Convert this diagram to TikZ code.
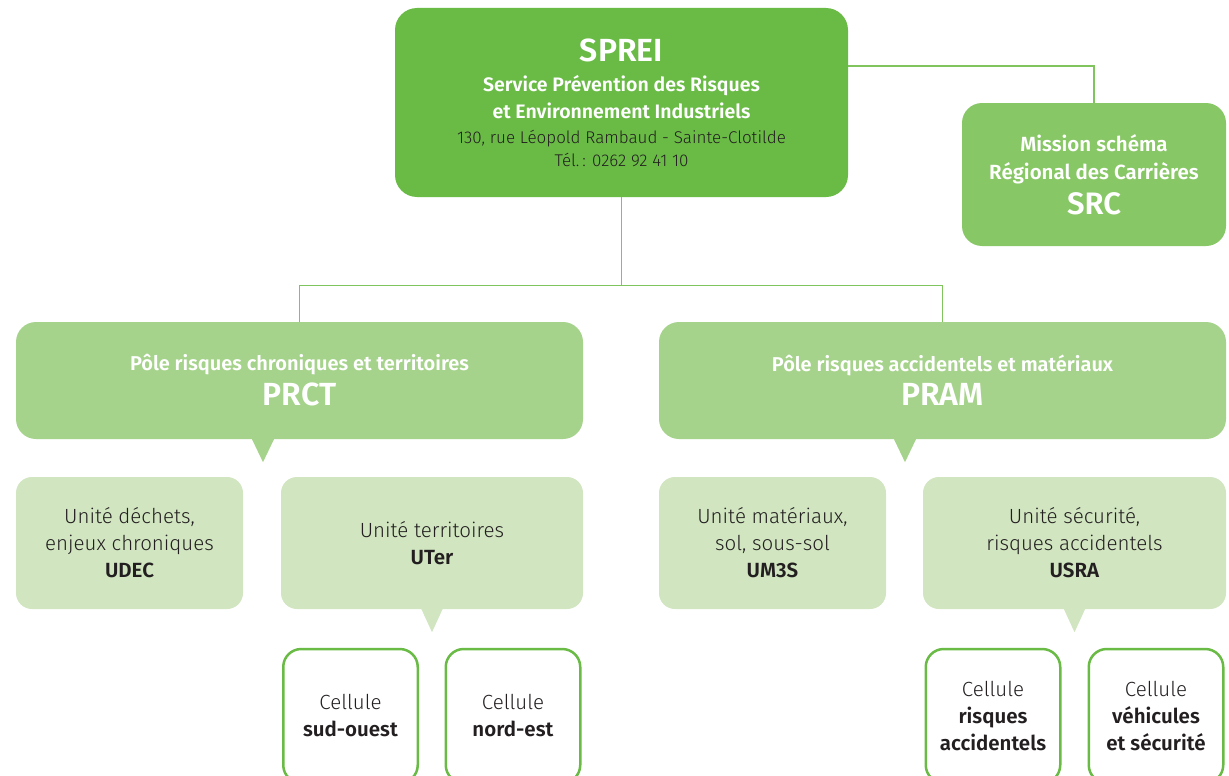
\documentclass[tikz,border=0pt]{standalone}
\usepackage{fontspec}
\setmainfont{Fira Sans}[UprightFont=* Light, BoldFont=* SemiBold]
\usepackage{tikz}
\usetikzlibrary{positioning}
\definecolor{spreifill}{HTML}{6ABB46}
\definecolor{missionfill}{HTML}{88C766}
\definecolor{polefill}{HTML}{A6D38B}
\definecolor{unitfill}{HTML}{D0E5C0}
\definecolor{link}{HTML}{80C45E}
\definecolor{ink}{HTML}{231F20}
\newcommand{\fsz}[2]{\fontsize{#1}{#2}\selectfont}
\tikzstyle{service} = [rectangle, fill=spreifill, text=white, align=center,
    rounded corners=22pt, minimum width=453pt, minimum height=189pt, inner sep=0pt]
\tikzstyle{mission} = [rectangle, fill=missionfill, text=white, align=center,
    rounded corners=20pt, minimum width=264pt, minimum height=143pt, inner sep=0pt]
\tikzstyle{line} = [draw, link, line width=1.3pt]

\begin{document}
\begin{tikzpicture}[x=1pt,y=-1pt]
\path [use as bounding box] (0,0) rectangle (1229,776);
\clip (0,0) rectangle (1229,776);

% Define block styles
\tikzstyle{pole} = [rectangle, fill=polefill, text=white, align=center,
    rounded corners=20pt, minimum width=567pt, minimum height=117pt, inner sep=0pt]
\tikzstyle{unit} = [rectangle, fill=unitfill, text=ink, align=center,
    rounded corners=16pt, minimum height=132pt, inner sep=0pt, font=\fsz{20.5}{27}]
\tikzstyle{cell} = [rectangle, draw=spreifill, line width=2.5pt, fill=white, text=ink,
    align=center, rounded corners=18pt, minimum width=134.5pt, minimum height=134pt,
    inner sep=0pt, font=\fsz{20.5}{27}]

    % Place nodes
    \node [service, font=\fsz{19.5}{27}] (sprei) at (621.5,102.5)
        {{\fsz{32}{34}\bfseries SPREI}\\[3pt]
         {\bfseries Service Prévention des Risques}\\
         {\bfseries et Environnement Industriels}\\[-2pt]
         {\color{ink}\fsz{17}{22}130, rue Léopold Rambaud - Sainte-Clotilde}\\[-4pt]
         {\color{ink}\fsz{17}{22}Tél.\,: 0262 92 41 10}};
    \node [mission, font=\fsz{20.5}{28}\bfseries] (src) at (1094,174.5)
        {Mission schéma\\ Régional des Carrières\\[7pt] {\fsz{31}{34}SRC}};

    \node [pole, font=\fsz{20}{27}\bfseries] (prct) at (299.5,380.5)
        {Pôle risques chroniques et territoires\\[7pt] {\fsz{32}{34}PRCT}};
    \node [pole, font=\fsz{20}{27}\bfseries, right of=prct, node distance=643pt] (pram)
        {Pôle risques accidentels et matériaux\\[7pt] {\fsz{32}{34}PRAM}};

    \node [unit, minimum width=227pt] (udec) at (129.5,543)
        {Unité déchets,\\ enjeux chroniques\\ \textbf{UDEC}};
    \node [unit, minimum width=302pt, right of=udec, node distance=302.5pt] (uter)
        {Unité territoires\\ \textbf{UTer}};
    \node [unit, minimum width=227pt] (um3s) at (772.5,543)
        {Unité matériaux,\\ sol, sous-sol\\ \textbf{UM3S}};
    \node [unit, minimum width=303pt, right of=um3s, node distance=302pt] (usra)
        {Unité sécurité,\\ risques accidentels\\ \textbf{USRA}};

    \node [cell] (sudouest) at (350.5,716) {Cellule\\ \textbf{sud-ouest}};
    \node [cell, right of=sudouest, node distance=162.5pt] (nordest)
        {Cellule\\ \textbf{nord-est}};
    \node [cell] (risques) at (993,716) {Cellule\\ \textbf{risques}\\ \textbf{accidentels}};
    \node [cell, right of=risques, node distance=163pt] (vehicules)
        {Cellule\\ \textbf{véhicules}\\ \textbf{et sécurité}};

    % Callout tips
    \fill [polefill] ([xshift=-48pt,yshift=1pt]prct.south) -- ([xshift=-36.5pt,yshift=-23pt]prct.south)
        -- ([xshift=-25pt,yshift=1pt]prct.south) -- cycle;
    \fill [polefill] ([xshift=-49pt,yshift=1pt]pram.south) -- ([xshift=-37.5pt,yshift=-23pt]pram.south)
        -- ([xshift=-26pt,yshift=1pt]pram.south) -- cycle;
    \fill [unitfill] ([xshift=-11pt,yshift=1pt]uter.south) -- ([yshift=-23pt]uter.south)
        -- ([xshift=11pt,yshift=1pt]uter.south) -- cycle;
    \fill [unitfill] ([xshift=-11pt,yshift=1pt]usra.south) -- ([yshift=-23pt]usra.south)
        -- ([xshift=11pt,yshift=1pt]usra.south) -- cycle;

    \path [line] ([yshift=36.5pt]sprei.east) -| (src.north);
    \path [line] (sprei.south) -- ++(0,88) -| (prct.north);
    \path [line] (sprei.south) -- ++(0,88) -| (pram.north);
\end{tikzpicture}
\end{document}
